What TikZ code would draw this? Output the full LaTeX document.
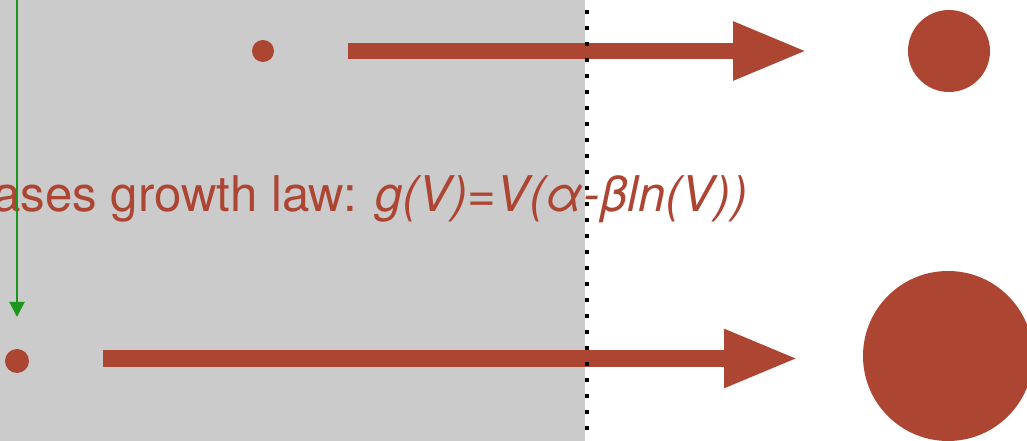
\documentclass[tikz,border=0pt]{standalone}
\usepackage{fontspec}
\setmainfont{TeX Gyre Heros}
\usetikzlibrary{arrows.meta}
\definecolor{cellred}{RGB}{173,69,51}
\definecolor{panelgray}{RGB}{203,203,203}
\definecolor{timegreen}{RGB}{28,150,28}
\begin{document}
\begin{tikzpicture}[x=0.25mm, y=-0.25mm,
    blob/.style={circle, fill=cellred, inner sep=0pt},
    growarrow/.style={cellred, line width=4.1mm, -{Triangle[length=18.5mm, width=13.6mm]}},
    every node/.style={font=\fontsize{35}{40}\selectfont}]
  \clip (0,0) rectangle (1027,441);
  \fill[panelgray] (0,0) rectangle (585,441);
  % cells before and after
  \node[blob, minimum size=5.5mm] (small1) at (263,51) {};
  \node[blob, minimum size=20.5mm] (big1) at (949,51) {};
  \node[blob, minimum size=6mm] (small2) at (17,361) {};
  \node[blob, minimum size=42.5mm] (big2) at (948,356) {};
  \coordinate (a1) at (348,51);
  \coordinate (b1) at (807,51);
  \coordinate (a2) at (103,358.5);
  \coordinate (b2) at (798,358.5);
  \draw[growarrow] (a1) -- (b1);
  \draw[growarrow] (a2) -- (b2);
  \node[cellred, anchor=base west, inner sep=0pt] (law) at (-7,212)
    {ases growth law: \textit{g(V)=V(α-βln(V))}};
  \coordinate (g0) at (17,-2);
  \draw[timegreen, line width=0.5mm, -{Triangle[length=3.8mm, width=3.8mm]}] (g0) -- (small2.north |- 0,317);
  \coordinate (d0) at (587,-6);
  \coordinate (d1) at (587,441);
  \draw[black, line width=1mm, dash pattern=on 1mm off 3mm] (d0) -- (d1);
\end{tikzpicture}
\end{document}
